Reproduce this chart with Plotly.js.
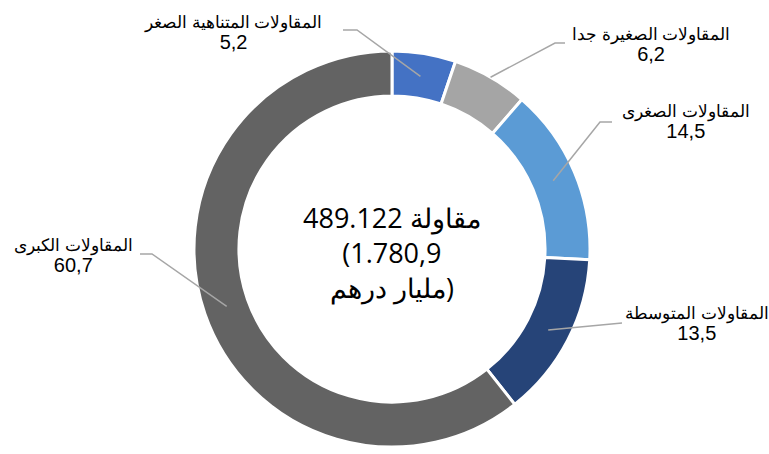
<!DOCTYPE html>
<html><head><meta charset="utf-8">
<script src="https://cdn.plot.ly/plotly-3.0.1.min.js"></script>
<style>html,body{margin:0;padding:0;background:#fff}</style>
</head><body><div id="chart" style="width:769px;height:454px"></div>
<script>
// ---- data ----
const categories = ["المقاولات المتناهية الصغر", "المقاولات الصغيرة جدا", "المقاولات الصغرى", "المقاولات المتوسطة", "المقاولات الكبرى"];
const values = [5.2, 6.2, 14.5, 13.5, 60.7];
const valueLabels = ["5,2", "6,2", "14,5", "13,5", "60,7"];
const centerLines = ["489.122 مقاولة", "(1.780,9", "مليار درهم)"];

// ---- style / layout config ----
const colors = ["#4472C4", "#A5A5A5", "#5B9BD5", "#264478", "#636363"];
const W = 769, H = 454;
const cx = 392, cy = 249, R = 198, holeFrac = 0.773;
// label centres (px) and leader elbows (px), leader inner radius (px)
const labelPos = [[233, 33], [651, 45], [686, 122], [697, 324], [73, 256]];
const elbows = [[[357, 30], [343, 30]], [[555, 43], [565, 43]], [[600, 122], [612, 122]], [[622, 323]], [[152, 254], [140, 254]]];
const leaderR = [175, 198, 175, 176, 175];
const LRM = "\u200E";

const px = x => x / W, py = y => 1 - y / H;

const total = values.reduce((a, b) => a + b, 0);
let cum = 0;
const shapes = [];
values.forEach((v, i) => {
  const mid = (cum + v / 2) / total * 2 * Math.PI;
  cum += v;
  const x0 = cx + leaderR[i] * Math.sin(mid);
  const y0 = cy - leaderR[i] * Math.cos(mid);
  let path = `M${px(x0)},${py(y0)}`;
  elbows[i].forEach(p => { path += ` L${px(p[0])},${py(p[1])}`; });
  shapes.push({type: "path", xref: "paper", yref: "paper", path: path,
    line: {color: "#A6A6A6", width: 1.5}});
});

const annotations = categories.map((c, i) => ({
  xref: "paper", yref: "paper", x: px(labelPos[i][0]), y: py(labelPos[i][1]),
  xanchor: "center", yanchor: "middle", showarrow: false,
  text: c + "<br><span style=\"font-size:20px\">" + valueLabels[i] + "</span>",
  font: {family: "Liberation Sans, Arial, sans-serif", size: 16.5, color: "#000"}
}));
annotations.push({
  xref: "paper", yref: "paper", x: px(cx), y: py(cy + 3),
  xanchor: "center", yanchor: "middle", showarrow: false,
  text: centerLines.map(s => LRM + s).join("<br>"),
  font: {family: "Open Sans, sans-serif", size: 27, color: "#000"}
});

const trace = {
  type: "pie", labels: categories, values: values, sort: false,
  direction: "clockwise", rotation: 0, hole: holeFrac,
  textinfo: "none", hoverinfo: "none",
  marker: {colors: colors, line: {color: "#fff", width: 3}},
  domain: {x: [px(cx - R), px(cx + R)], y: [1 - (cy + R) / H, 1 - (cy - R) / H]}
};

Plotly.newPlot("chart", [trace], {
  width: W, height: H, margin: {l: 0, r: 0, t: 0, b: 0},
  showlegend: false, paper_bgcolor: "#fff",
  shapes: shapes, annotations: annotations
}, {staticPlot: true});
</script></body></html>
